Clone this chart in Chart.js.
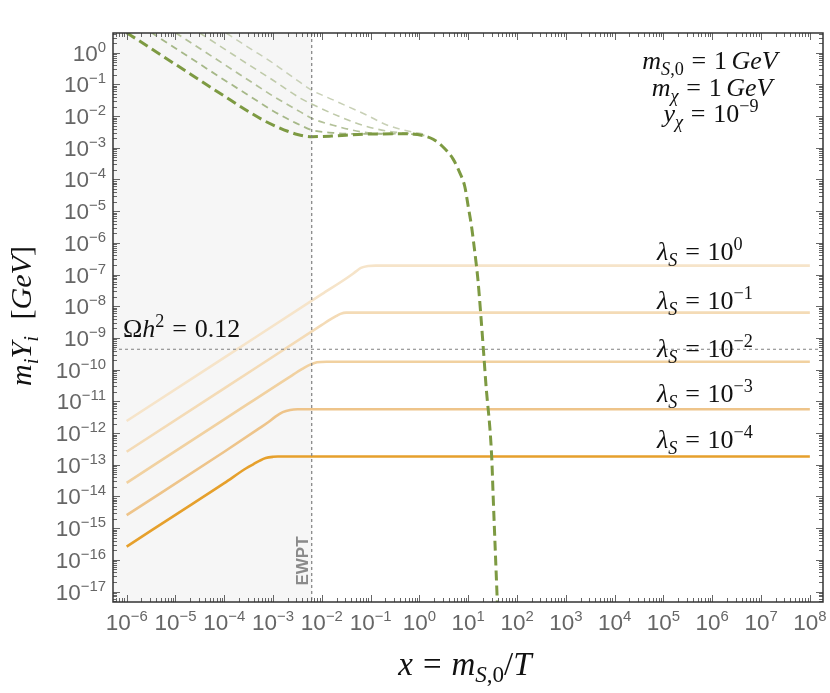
<!DOCTYPE html>
<html>
<head>
<meta charset="utf-8">
<script src="https://cdn.jsdelivr.net/npm/chart.js@4.4.1/dist/chart.umd.min.js"></script>
<style>
  html, body { margin: 0; padding: 0; background: #fff; }
  #wrap { width: 830px; height: 693px; }
</style>
</head>
<body>
<div id="wrap"><canvas id="plot" width="830" height="693"></canvas></div>
<script>
// axis range (x = m_S0/T, y = m_i Y_i in GeV)
const X_MIN = 5.25e-7;
const X_MAX = 1.86e8;
const Y_MIN = 4.68e-18;
const Y_MAX = 4.17;
const EWPT_X = 6.2e-3;
const OMEGA_Y = 4.4e-10;
const X_DECADES = [-6, -5, -4, -3, -2, -1, 0, 1, 2, 3, 4, 5, 6, 7, 8];
const Y_DECADES = [0, -1, -2, -3, -4, -5, -6, -7, -8, -9, -10, -11, -12, -13, -14, -15, -16, -17];

// chi abundance, one curve per lambda_S (solid)
const lamX4 = [1e-6, 1e-5, 1e-4, 2.82e-4, 3.98e-4, 5.37e-4, 7.08e-4, 1e-3, 1.26e-3, 1e8];
const lamY4 = [2.63e-16, 2.63e-15, 2.63e-14, 7.76e-14, 1.05e-13, 1.35e-13, 1.62e-13, 1.78e-13, 1.82e-13, 1.82e-13];
const lamX3 = [1e-6, 1e-4, 5.01e-4, 7.94e-4, 1.12e-3, 1.58e-3, 2.24e-3, 3.16e-3, 1e8];
const lamY3 = [2.57e-15, 2.57e-13, 1.35e-12, 2.19e-12, 3.31e-12, 4.57e-12, 5.37e-12, 5.62e-12, 5.62e-12];
const lamX2 = [1e-6, 1e-4, 2.51e-3, 3.98e-3, 5.62e-3, 7.94e-3, 1.26e-2, 1e8];
const lamY2 = [2.69e-14, 2.69e-12, 6.76e-11, 1.05e-10, 1.41e-10, 1.70e-10, 1.78e-10, 1.78e-10];
const lamX1 = [1e-6, 1e-4, 1e-2, 1.41e-2, 1.91e-2, 2.40e-2, 3.16e-2, 1e8];
const lamY1 = [2.57e-13, 2.57e-11, 2.57e-9, 3.63e-9, 4.79e-9, 5.75e-9, 6.31e-9, 6.31e-9];
const lamX0 = [1e-6, 1e-4, 1e-2, 3.55e-2, 5.01e-2, 6.31e-2, 8.91e-2, 0.126, 1e8];
const lamY0 = [2.40e-12, 2.40e-10, 2.40e-8, 8.51e-8, 1.26e-7, 1.62e-7, 1.86e-7, 1.91e-7, 1.91e-7];

// S abundance (dashed)
const sX0 = [1e-6, 1e-5, 1e-4, 3.16e-4, 6.31e-4, 1.17e-3, 2.0e-3, 3.16e-3, 6.31e-3, 1.58e-2, 7.94e-2, 0.631, 1.20, 1.91, 3.16, 4.90, 6.76, 8.51, 10, 11.7, 13.2, 14.5, 15.8, 20.4, 22.9, 30.2, 32.4, 39.8];
const sY0 = [4.27, 0.427, 4.27e-2, 1.38e-2, 7.41e-3, 4.68e-3, 3.31e-3, 2.63e-3, 2.24e-3, 2.34e-3, 2.69e-3, 2.75e-3, 2.40e-3, 1.86e-3, 1e-3, 4.37e-4, 1.58e-4, 5.89e-5, 1.38e-5, 3.24e-6, 7.59e-7, 2.29e-7, 6.76e-8, 4.47e-10, 3.80e-11, 1.82e-13, 1e-14, 3.2e-18];
const sX4 = [3.16e-6, 1e-5, 1e-4, 3.16e-4, 1e-3, 2.51e-3, 3.55e-3, 6.17e-3, 1.70e-2, 5.01e-2, 0.316, 1, 1.26];
const sY4 = [4.37, 1.38, 0.138, 4.47e-2, 1.45e-2, 6.76e-3, 5.25e-3, 3.63e-3, 2.95e-3, 2.75e-3, 2.75e-3, 2.57e-3, 2.45e-3];
const sX3 = [1e-5, 3.16e-5, 1e-4, 3.16e-4, 1e-3, 3.55e-3, 6.17e-3, 1.70e-2, 6.03e-2, 0.158, 0.501, 1.26];
const sY3 = [4.27, 1.35, 0.427, 0.135, 4.27e-2, 1.38e-2, 8.51e-3, 5.13e-3, 3.24e-3, 2.82e-3, 2.75e-3, 2.45e-3];
const sX2 = [3.16e-5, 1e-4, 3.16e-4, 1e-3, 3.55e-3, 6.17e-3, 2.69e-2, 8.32e-2, 0.251, 0.631, 1.26];
const sY2 = [4.17, 1.32, 0.417, 0.135, 3.72e-2, 2.40e-2, 8.71e-3, 4.68e-3, 3.24e-3, 2.82e-3, 2.45e-3];
const sX1 = [1.10e-4, 3.16e-4, 1e-3, 3.55e-3, 6.17e-3, 1.70e-2, 8.32e-2, 0.214, 0.646, 1.41];
const sY1 = [4.17, 1.45, 0.468, 0.117, 6.61e-2, 3.24e-2, 1.07e-2, 5.25e-3, 3.24e-3, 2.63e-3];

const LAM_EXP = ['0', '\u22121', '\u22122', '\u22123', '\u22124'];
const LAM_BASE = [260, 309, 357, 402, 448];

const SERIF = '"Liberation Serif", "DejaVu Serif", serif';
const SANS = '"Liberation Sans", Arial, sans-serif';

function series(xs, ys, color, width, dash) {
    return {
        data: xs.map((v, i) => ({ x: v, y: ys[i] })),
        borderColor: color,
        borderWidth: width,
        borderDash: dash || [],
        pointRadius: 0,
        fill: false,
        cubicInterpolationMode: 'monotone',
    };
}

// draws text runs: [text, flags] with i = italic, _ = subscript, ^ = superscript; numbers are gaps in em
function drawRich(ctx, parts, x, y, size, family, align, small) {
    small = small || 0.7;
    let total = 0;
    const runs = parts.map(p => {
        if (typeof p === 'number') {
            total += p * size;
            return { gap: p * size };
        }
        const text = p[0];
        const flags = p[1] || '';
        const isSmall = flags.includes('_') || flags.includes('^');
        const s = isSmall ? size * small : size;
        const font = (flags.includes('i') ? 'italic ' : '') + s.toFixed(1) + 'px ' + family;
        ctx.font = font;
        const w = ctx.measureText(text).width;
        total += w;
        const dy = flags.includes('_') ? size * 0.22 : flags.includes('^') ? -size * 0.4 : 0;
        return { text, font, w, dy };
    });
    let cx = align === 'center' ? x - total / 2 : align === 'right' ? x - total : x;
    ctx.textAlign = 'left';
    ctx.textBaseline = 'alphabetic';
    runs.forEach(r => {
        if (r.gap !== undefined) { cx += r.gap; return; }
        ctx.font = r.font;
        ctx.fillText(r.text, cx, y + r.dy);
        cx += r.w;
    });
}

const decor = {
    id: 'decor',
    beforeDatasetsDraw(chart) {
        const { ctx, chartArea: a, scales: { x } } = chart;
        ctx.save();
        ctx.fillStyle = '#f6f6f6';
        ctx.fillRect(a.left, a.top, x.getPixelForValue(EWPT_X) - a.left, a.bottom - a.top);
        ctx.restore();
    },
    afterDatasetsDraw(chart) {
        const { ctx, chartArea: a, scales: { x, y } } = chart;
        ctx.save();

        // reference lines
        ctx.strokeStyle = '#808080';
        ctx.lineWidth = 1.2;
        ctx.setLineDash([3, 3]);
        const xe = x.getPixelForValue(EWPT_X);
        ctx.beginPath();
        ctx.moveTo(xe, a.top);
        ctx.lineTo(xe, a.bottom);
        ctx.stroke();
        const yo = y.getPixelForValue(OMEGA_Y);
        ctx.lineWidth = 1;
        ctx.beginPath();
        ctx.moveTo(a.left, yo);
        ctx.lineTo(a.right, yo);
        ctx.stroke();
        ctx.setLineDash([]);

        // ticks inside the frame
        ctx.strokeStyle = '#666';
        ctx.lineWidth = 1;
        for (let k = -7; k <= 8; k++) {
            for (let m = 1; m <= 9; m++) {
                const v = m * Math.pow(10, k);
                if (v < X_MIN || v > X_MAX) continue;
                const px = Math.round(x.getPixelForValue(v)) + 0.5;
                const len = m === 1 ? 7 : 4;
                ctx.beginPath();
                ctx.moveTo(px, a.bottom); ctx.lineTo(px, a.bottom - len);
                ctx.moveTo(px, a.top); ctx.lineTo(px, a.top + len);
                ctx.stroke();
            }
        }
        for (let k = -18; k <= 0; k++) {
            for (let m = 1; m <= 9; m++) {
                const v = m * Math.pow(10, k);
                if (v < Y_MIN || v > Y_MAX) continue;
                const py = Math.round(y.getPixelForValue(v)) + 0.5;
                const len = m === 1 ? 7 : 4;
                ctx.beginPath();
                ctx.moveTo(a.left, py); ctx.lineTo(a.left + len, py);
                ctx.moveTo(a.right, py); ctx.lineTo(a.right - len, py);
                ctx.stroke();
            }
        }

        // frame
        ctx.strokeStyle = '#333';
        ctx.lineWidth = 1.5;
        ctx.strokeRect(a.left, a.top, a.right - a.left, a.bottom - a.top);

        // tick labels
        ctx.fillStyle = '#666';
        X_DECADES.forEach(k => {
            const px = x.getPixelForValue(Math.pow(10, k));
            const e = k < 0 ? '\u2212' + (-k) : String(k);
            drawRich(ctx, [['10'], [e, '^']], px, 630, 22.5, SANS, 'center', 0.66);
        });
        Y_DECADES.forEach(k => {
            const py = y.getPixelForValue(Math.pow(10, k));
            const e = k < 0 ? '\u2212' + (-k) : String(k);
            drawRich(ctx, [['10'], [e, '^']], 106, py + 8, 22.5, SANS, 'right', 0.66);
        });

        // annotations
        ctx.fillStyle = '#111';
        const eq = [0.3, ['='], 0.3];
        drawRich(ctx, [['m', 'i'], ['S', 'i_'], [',0', '_'], ...eq, ['1'], 0.17, ['GeV', 'i']], 710, 69, 26, SERIF, 'center');
        drawRich(ctx, [['m', 'i'], ['\u03c7', 'i_'], ...eq, ['1'], 0.17, ['GeV', 'i']], 712, 96, 26, SERIF, 'center');
        drawRich(ctx, [['y', 'i'], ['\u03c7', 'i_'], ...eq, ['10'], ['\u22129', '^']], 711, 122, 26, SERIF, 'center');
        LAM_EXP.forEach((e, i) => {
            drawRich(ctx, [['\u03bb', 'i'], ['S', 'i_'], ...eq, ['10'], [e, '^']], 657, LAM_BASE[i], 26, SERIF, 'left');
        });
        drawRich(ctx, [['\u03a9'], ['h', 'i'], ['2', '^'], ...eq, ['0.12']], 123, 337, 26, SERIF, 'left');

        // axis titles
        drawRich(ctx, [['x', 'i'], ...eq, ['m', 'i'], ['S', 'i_'], [',0', '_'], ['/'], ['T', 'i']], 465, 675, 33, SERIF, 'center');
        ctx.save();
        ctx.translate(31, 316);
        ctx.rotate(-Math.PI / 2);
        drawRich(ctx, [['m', 'i'], ['i', 'i_'], ['Y', 'i'], ['i', 'i_'], 0.55, ['['], ['GeV', 'i'], [']']], 0, 0, 30, SERIF, 'center');
        ctx.restore();

        // EWPT marker
        ctx.save();
        ctx.translate(308, 561);
        ctx.rotate(-Math.PI / 2);
        ctx.fillStyle = '#8a8a8a';
        ctx.font = 'bold 17px ' + SANS;
        ctx.textAlign = 'center';
        ctx.textBaseline = 'alphabetic';
        ctx.fillText('EWPT', 0, 0);
        ctx.restore();

        ctx.restore();
    }
};

new Chart(document.getElementById('plot').getContext('2d'), {
    type: 'line',
    data: {
        datasets: [
            series(sX0, sY0, '#7d9a42', 3, [10, 5]),
            series(sX4, sY4, '#a6b888', 1.8, [7, 5]),
            series(sX3, sY3, '#b3c199', 1.7, [7, 5]),
            series(sX2, sY2, '#bfcaa9', 1.6, [7, 5]),
            series(sX1, sY1, '#c8d0b6', 1.5, [7, 5]),
            series(lamX4, lamY4, '#e6a02c', 2.6),
            series(lamX3, lamY3, '#eec48a', 2.6),
            series(lamX2, lamY2, '#f1d1a0', 2.6),
            series(lamX1, lamY1, '#f4dbb6', 2.6),
            series(lamX0, lamY0, '#f6e4c9', 2.6),
        ],
    },
    options: {
        responsive: false,
        animation: false,
        events: [],
        layout: { padding: { left: 113, top: 33, right: 7, bottom: 91 } },
        plugins: {
            legend: { display: false },
            tooltip: { enabled: false },
        },
        scales: {
            x: { type: 'logarithmic', min: X_MIN, max: X_MAX, display: false },
            y: { type: 'logarithmic', min: Y_MIN, max: Y_MAX, display: false },
        },
    },
    plugins: [decor],
});
</script>
</body>
</html>
